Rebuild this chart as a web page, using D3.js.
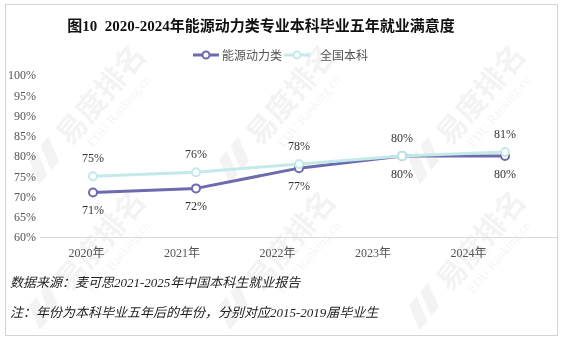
<!DOCTYPE html>
<html><head><meta charset="utf-8">
<script src="https://cdn.jsdelivr.net/npm/d3@7"></script>
<style>
html,body{margin:0;padding:0;background:#fff;}
svg{display:block;}
</style></head>
<body>
<svg id="chart" width="563" height="343"></svg>
<script>
const years = ["2020年","2021年","2022年","2023年","2024年"];
const seriesNames = ["能源动力类","全国本科"];
const energyValues = [0.71,0.72,0.77,0.80,0.80];
const nationalValues = [0.75,0.76,0.78,0.80,0.81];
const yTicks = [0.60,0.65,0.70,0.75,0.80,0.85,0.90,0.95,1.00];
const titleText = "图10  2020-2024年能源动力类专业本科毕业五年就业满意度";
const sourceText = "数据来源：麦可思2021-2025年中国本科生就业报告";
const noteText = "注：年份为本科毕业五年后的年份，分别对应2015-2019届毕业生";
const colors = ["#6d6bb0","#c3eae9"];

const svg = d3.select("#chart");
const serif = "'Liberation Serif','Times New Roman','Noto Sans CJK SC',serif";

// faint watermark
const wm = svg.append("g").attr("fill","#000").attr("opacity",0.05);
const wmPos = [[104,92],[294,92],[484,92],[104,238],[294,238],[484,238]];
wmPos.forEach(([x,y])=>{
  const g = wm.append("g").attr("transform",`translate(${x},${y}) rotate(-50)`);
  g.append("path").attr("d","M-112,10 L-100,-14 L-88,-14 L-100,10 Z");
  g.append("path").attr("d","M-94,10 L-82,-14 L-70,-14 L-82,10 Z");
  g.append("text").attr("x",-4).attr("y",10).attr("text-anchor","middle")
    .attr("font-family","'Noto Sans CJK SC',sans-serif")
    .attr("font-weight","bold").attr("font-size",30).text("易度排名");
  g.append("text").attr("x",-50).attr("y",28).attr("font-family","'Liberation Serif',serif")
    .attr("font-size",13).text("EDU Ranking.cn");
});

// frame
svg.append("rect").attr("x",5.5).attr("y",4.5).attr("width",552).attr("height",331)
  .attr("fill","none").attr("stroke","#d4d4d4");

// title
svg.append("text").attr("x",261).attr("y",31).attr("text-anchor","middle")
  .style("white-space","pre")
  .attr("font-family",serif).attr("font-weight","bold").attr("font-size",15)
  .attr("fill","#111").text(titleText);

const y = d3.scaleLinear().domain([0.6,1.0]).range([237,75]);
const x = d3.scalePoint().domain(years).range([93,505]);
const xLabel = d3.scalePoint().domain(years).range([86,468]);

// y axis
const yAxis = d3.axisLeft(y).tickValues(yTicks).tickFormat(d3.format(".0%")).tickSize(0).tickPadding(0);
const ya = svg.append("g").attr("transform","translate(36,0)").call(yAxis);
ya.select(".domain").remove();
ya.selectAll("text").attr("font-family",serif).attr("font-size",12).attr("fill","#555");

// x axis line
svg.append("line").attr("x1",40).attr("x2",557).attr("y1",237.5).attr("y2",237.5)
  .attr("stroke","#d9d9d9").attr("stroke-width",1);
const xAxis = d3.axisBottom(xLabel).tickSize(0).tickPadding(11);
const xa = svg.append("g").attr("transform","translate(0,237)").call(xAxis);
xa.select(".domain").remove();
xa.selectAll("text").attr("font-family",serif).attr("font-size",12).attr("fill","#555");

const line = d3.line().x((d,i)=>x(years[i])).y(d=>y(d));
const allSeries = [energyValues, nationalValues];
allSeries.forEach((vals,si)=>{
  svg.append("path").datum(vals).attr("d",line).attr("fill","none")
    .attr("stroke",colors[si]).attr("stroke-width",3).attr("stroke-linejoin","round");
});
allSeries.forEach((vals,si)=>{
  svg.selectAll(null).data(vals).enter().append("circle")
    .attr("cx",(d,i)=>x(years[i])).attr("cy",d=>y(d)).attr("r",4)
    .attr("fill","#fff").attr("stroke",colors[si]).attr("stroke-width",2);
});
// labels
svg.selectAll(null).data(nationalValues).enter().append("text")
  .attr("x",(d,i)=>x(years[i])).attr("y",d=>y(d)-14).attr("text-anchor","middle")
  .attr("font-family",serif).attr("font-size",12).attr("fill","#333")
  .text(d=>d3.format(".0%")(d));
svg.selectAll(null).data(energyValues).enter().append("text")
  .attr("x",(d,i)=>x(years[i])).attr("y",d=>y(d)+22).attr("text-anchor","middle")
  .attr("font-family",serif).attr("font-size",12).attr("fill","#333")
  .text(d=>d3.format(".0%")(d));

// legend
const leg = [[193,222],[284,320]];
seriesNames.forEach((n,i)=>{
  const [lx,tx]=leg[i];
  svg.append("line").attr("x1",lx).attr("x2",lx+26).attr("y1",55).attr("y2",55)
    .attr("stroke",colors[i]).attr("stroke-width",3);
  svg.append("circle").attr("cx",lx+13).attr("cy",55).attr("r",3.5)
    .attr("fill","#fff").attr("stroke",colors[i]).attr("stroke-width",2);
  svg.append("text").attr("x",tx).attr("y",59.5).attr("font-family","'Noto Sans CJK SC',sans-serif")
    .attr("font-size",12).attr("fill","#555").text(n);
});

// footnotes
svg.append("text").attr("x",10).attr("y",287).attr("font-family",serif).attr("font-style","italic")
  .attr("font-size",13).attr("fill","#222").text(sourceText);
svg.append("text").attr("x",10).attr("y",317).attr("font-family",serif).attr("font-style","italic")
  .attr("font-size",13).attr("fill","#222").text(noteText);
</script>
</body></html>
